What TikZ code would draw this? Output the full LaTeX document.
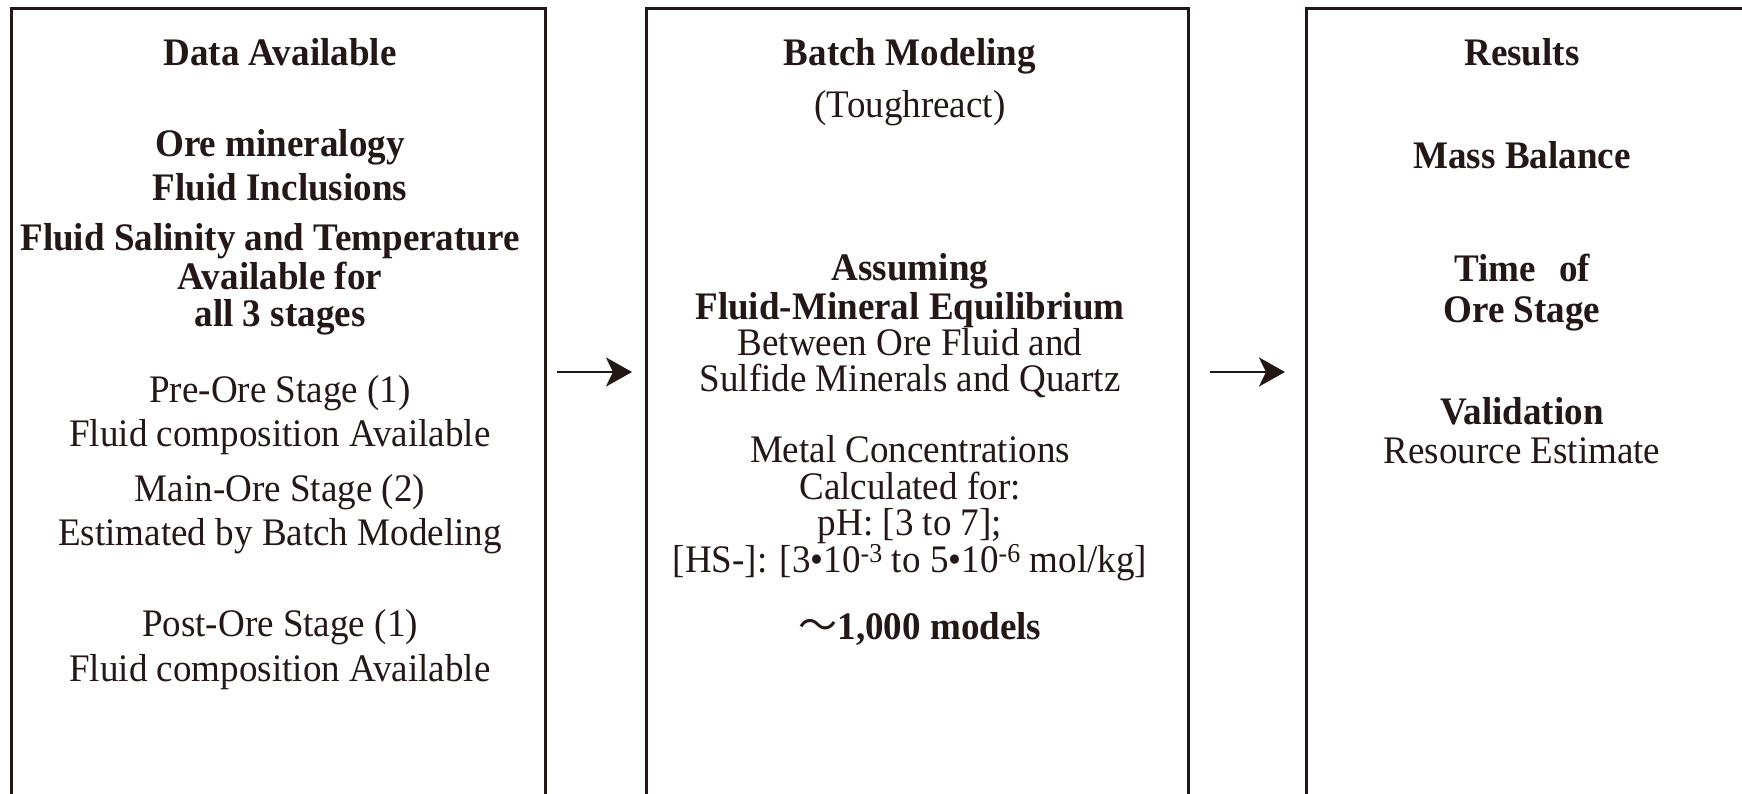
\documentclass[tikz,border=0pt]{standalone}
\usepackage{fontspec}
\setmainfont{Liberation Serif}[FakeStretch=0.95]
\newfontfamily\cjk{Noto Sans CJK JP}
\usetikzlibrary{arrows.meta}
\definecolor{ink}{RGB}{35,24,21}
\begin{document}
\begin{tikzpicture}[x=1pt,y=-1pt,
  panel/.style={draw=ink, line width=2.8pt, anchor=north west, inner sep=0pt},
  txt/.style={anchor=base, inner sep=0pt, text=ink, font=\fontsize{39}{46}\selectfont},
  btxt/.style={anchor=base, inner sep=0pt, text=ink, font=\fontsize{39}{46}\selectfont\bfseries},
  arr/.style={draw=ink, line width=2.8pt, -{Stealth[length=26pt,width=29pt,inset=7pt]}}]
\useasboundingbox (0,0) rectangle (1742,794);
\clip (0,0) rectangle (1742,794);
\fill[white] (0,0) rectangle (1742,794);
% panels
\node[panel, minimum width=534pt, minimum height=830pt] (box1) at (10,7) {};
\node[panel, minimum width=542pt, minimum height=830pt] (box2) at (645,7) {};
\node[panel, minimum width=450pt, minimum height=830pt] (box3) at (1305,7) {};
% arrows
\coordinate (ay) at (0,372);
\draw[arr, shorten <=10pt, shorten >=13pt] (box1.east |- ay) -- (box2.west |- ay);
\draw[arr, shorten <=20pt, shorten >=20pt] (box2.east |- ay) -- (box3.west |- ay);
% left panel
\node[btxt] (l1) at (280,66) {Data Available};
\node[btxt] (l2) at (280,157) {Ore mineralogy};
\node[btxt] (l3) at (280,201) {Fluid Inclusions};
\node[btxt] (l4) at (270,251) {Fluid Salinity and Temperature};
\node[btxt] (l5) at (280,290) {Available for};
\node[btxt] (l6) at (280,326) {all 3 stages};
\node[txt] (l7) at (280,402) {Pre-Ore Stage (1)};
\node[txt] (l8) at (280,446) {Fluid composition Available};
\node[txt] (l9) at (280,501) {Main-Ore Stage (2)};
\node[txt] (l10) at (280,545) {Estimated by Batch Modeling};
\node[txt] (l11) at (280,636) {Post-Ore Stage (1)};
\node[txt] (l12) at (280,681) {Fluid composition Available};
% middle panel
\node[btxt] (m1) at (910,66) {Batch Modeling};
\node[txt] (m2) at (910,118) {(Toughreact)};
\node[btxt] (m3) at (910,280) {Assuming};
\node[btxt] (m4) at (910,319) {Fluid-Mineral Equilibrium};
\node[txt] (m5) at (910,355) {Between Ore Fluid and};
\node[txt] (m6) at (910,391) {Sulfide Minerals and Quartz};
\node[txt] (m7) at (910,462) {Metal Concentrations};
\node[txt] (m8) at (910,499) {Calculated for:};
\node[txt] (m9) at (910,535) {pH: [3 to 7];};
\node[txt] (m10) at (910,572) {[HS-]: [3•10\textsuperscript{-3} to 5•10\textsuperscript{-6} mol/kg]};
\node[btxt] (m11) at (920,639) {{\cjk\mdseries ～}1,000 models};
% right panel
\node[btxt] (r1) at (1522,66) {Results};
\node[btxt] (r2) at (1522,169) {Mass Balance};
\node[btxt] (r3) at (1522,282) {Time\hspace{0.6em}of};
\node[btxt] (r4) at (1522,322) {Ore Stage};
\node[btxt] (r5) at (1522,424) {Validation};
\node[txt] (r6) at (1522,463) {Resource Estimate};
\end{tikzpicture}
\end{document}
